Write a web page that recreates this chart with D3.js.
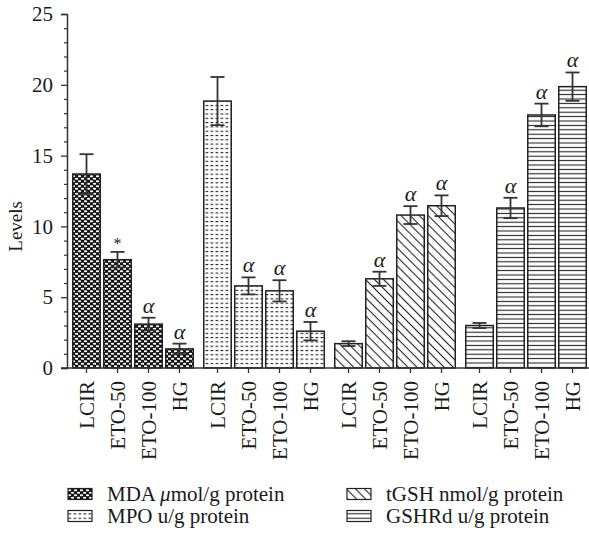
<!DOCTYPE html>
<html>
<head>
<meta charset="utf-8">
<script src="https://cdn.jsdelivr.net/npm/d3@7"></script>
<style>
  body { margin: 0; background: #fff; }
  svg { display: block; }
  text { font-family: "Liberation Serif", "DejaVu Serif", serif; fill: #1a1a1a; }
</style>
</head>
<body>
<script>
// Measured groups and treatments
const groups = ["MDA", "MPO", "tGSH", "GSHRd"];
const treatments = ["LCIR", "ETO-50", "ETO-100", "HG"];

// Means and error (±) per group, in treatment order
const mdaValues   = [13.7, 7.65, 3.1, 1.35];
const mdaErrors   = [1.4, 0.55, 0.45, 0.37];
const mpoValues   = [18.85, 5.8, 5.45, 2.6];
const mpoErrors   = [1.7, 0.6, 0.75, 0.65];
const tgshValues  = [1.72, 6.3, 10.8, 11.46];
const tgshErrors  = [0.17, 0.5, 0.63, 0.73];
const gshrdValues = [3.0, 11.3, 17.87, 19.87];
const gshrdErrors = [0.18, 0.72, 0.8, 1.0];

// Significance marks drawn above each bar
const mdaMarks   = ["", "*", "α", "α"];
const mpoMarks   = ["", "α", "α", "α"];
const tgshMarks  = ["", "α", "α", "α"];
const gshrdMarks = ["", "α", "α", "α"];

const yTicks = [0, 5, 10, 15, 20, 25];
const legendUnits = ["μmol/g protein", "u/g protein", "nmol/g protein", "u/g protein"];

const seriesValues = [mdaValues, mpoValues, tgshValues, gshrdValues];
const seriesErrors = [mdaErrors, mpoErrors, tgshErrors, gshrdErrors];
const seriesMarks  = [mdaMarks, mpoMarks, tgshMarks, gshrdMarks];

const rows = [];
groups.forEach((g, gi) => {
  treatments.forEach((t, ti) => {
    rows.push({ group: g, treatment: t, value: seriesValues[gi][ti],
                err: seriesErrors[gi][ti], mark: seriesMarks[gi][ti] });
  });
});

const W = 589, H = 537;
const svg = d3.select("body").append("svg").attr("width", W).attr("height", H);

// Fill patterns, one per group
const defs = svg.append("defs");
const ink = "#222";

const pMda = defs.append("pattern").attr("id", "pat-MDA")
  .attr("patternUnits", "userSpaceOnUse").attr("width", 6).attr("height", 5);
pMda.append("rect").attr("width", 6).attr("height", 5).attr("fill", "#111");
pMda.append("ellipse").attr("cx", 1.5).attr("cy", 1.25).attr("rx", 1.75).attr("ry", 1.1).attr("fill", "#fff");
pMda.append("ellipse").attr("cx", 4.5).attr("cy", 3.75).attr("rx", 1.75).attr("ry", 1.1).attr("fill", "#fff");

const pMpo = defs.append("pattern").attr("id", "pat-MPO")
  .attr("patternUnits", "userSpaceOnUse").attr("width", 5).attr("height", 4.3);
pMpo.append("rect").attr("width", 5).attr("height", 4.3).attr("fill", "#fff");
pMpo.append("line").attr("x1", 0.5).attr("x2", 3.3).attr("y1", 2.2).attr("y2", 2.2)
  .attr("stroke", "#222").attr("stroke-width", 1.1);

const pTgsh = defs.append("pattern").attr("id", "pat-tGSH")
  .attr("patternUnits", "userSpaceOnUse").attr("width", 8).attr("height", 6.4)
  .attr("patternTransform", "rotate(45)");
pTgsh.append("rect").attr("width", 8).attr("height", 6.4).attr("fill", "#fff");
pTgsh.append("line").attr("x1", 0).attr("x2", 8).attr("y1", 3.2).attr("y2", 3.2)
  .attr("stroke", ink).attr("stroke-width", 1.1);

const pGsh = defs.append("pattern").attr("id", "pat-GSHRd")
  .attr("patternUnits", "userSpaceOnUse").attr("width", 6).attr("height", 4.4);
pGsh.append("rect").attr("width", 6).attr("height", 4.4).attr("fill", "#fff");
pGsh.append("line").attr("x1", 0).attr("x2", 6).attr("y1", 2.2).attr("y2", 2.2)
  .attr("stroke", ink).attr("stroke-width", 1.1);

// Scales
const y = d3.scaleLinear().domain([0, 25]).range([368, 14]);
const x0 = d3.scaleBand().domain(groups).range([71, 588]).paddingInner(7 / 131);
const x1 = d3.scaleBand().domain(treatments).range([0, x0.bandwidth()])
  .paddingInner(0.113).paddingOuter(0.0565);
const cx = d => x0(d.group) + x1(d.treatment) + x1.bandwidth() / 2;

// Bars
svg.append("g").selectAll("rect").data(rows).join("rect")
  .attr("x", d => x0(d.group) + x1(d.treatment))
  .attr("y", d => y(d.value))
  .attr("width", x1.bandwidth())
  .attr("height", d => y(0) - y(d.value))
  .attr("fill", d => `url(#pat-${d.group})`)
  .attr("stroke", ink).attr("stroke-width", 1.5);

// Error bars
const capW = 14;
const eb = svg.append("g").attr("stroke", "#333").attr("stroke-width", 1.8);
eb.selectAll("line.v").data(rows).join("line").attr("class", "v")
  .attr("x1", cx).attr("x2", cx)
  .attr("y1", d => y(d.value + d.err)).attr("y2", d => y(d.value - d.err));
eb.selectAll("line.t").data(rows).join("line").attr("class", "t")
  .attr("x1", d => cx(d) - capW / 2).attr("x2", d => cx(d) + capW / 2)
  .attr("y1", d => y(d.value + d.err)).attr("y2", d => y(d.value + d.err));
eb.selectAll("line.b").data(rows).join("line").attr("class", "b")
  .attr("x1", d => cx(d) - capW / 2).attr("x2", d => cx(d) + capW / 2)
  .attr("y1", d => y(d.value - d.err)).attr("y2", d => y(d.value - d.err));

// Significance marks
svg.append("g").selectAll("text").data(rows.filter(d => d.mark)).join("text")
  .attr("x", cx)
  .attr("y", d => y(d.value + d.err) - (d.mark === "*" ? 3 : 5))
  .attr("text-anchor", "middle")
  .style("font-size", d => d.mark === "*" ? "16px" : "22px")
  .style("font-style", d => d.mark === "*" ? "normal" : "italic")
  .text(d => d.mark);

// Y axis: major ticks with labels, minor ticks every unit
const yAxis = svg.append("g").attr("transform", "translate(67,0)")
  .call(d3.axisLeft(y).tickValues(yTicks).tickSize(6).tickPadding(8).tickFormat(d3.format("d")));
yAxis.select(".domain").attr("stroke", "#333").attr("stroke-width", 1.5);
yAxis.selectAll(".tick line").attr("stroke", "#333").attr("stroke-width", 1.3);
yAxis.selectAll(".tick text").style("font-size", "21px")
  .style("font-family", '"Liberation Serif", serif').attr("fill", "#1a1a1a");

const minor = svg.append("g").attr("transform", "translate(67,0)")
  .call(d3.axisLeft(y).tickValues(d3.range(0, 26).filter(v => v % 5 !== 0)).tickSize(3).tickFormat(""));
minor.select(".domain").remove();
minor.selectAll(".tick line").attr("stroke", "#333").attr("stroke-width", 1.2);

svg.append("text")
  .attr("transform", `translate(22,${y(10)}) rotate(-90)`)
  .attr("text-anchor", "middle")
  .style("font-size", "19px")
  .text("Levels");

// X axis baseline, ticks and rotated labels
svg.append("line").attr("x1", 61).attr("x2", W).attr("y1", y(0)).attr("y2", y(0))
  .attr("stroke", "#333").attr("stroke-width", 1.5);
svg.append("g").selectAll("line").data(rows).join("line")
  .attr("x1", cx).attr("x2", cx).attr("y1", y(0)).attr("y2", y(0) + 5)
  .attr("stroke", "#333").attr("stroke-width", 1.3);
svg.append("g").selectAll("text").data(rows).join("text")
  .attr("transform", d => `translate(${cx(d)},${y(0) + 13}) rotate(-90)`)
  .attr("text-anchor", "end")
  .attr("dy", "0.34em")
  .style("font-size", "21px")
  .text(d => d.treatment);

// Legend in two columns
const legendPos = [[68, 494], [68, 516], [347, 494], [347, 516]];
const lg = svg.append("g").selectAll("g").data(groups).join("g")
  .attr("transform", (g, i) => `translate(${legendPos[i][0]},${legendPos[i][1]})`);
lg.append("rect").attr("x", 0).attr("y", -5.5).attr("width", 24).attr("height", 11)
  .attr("fill", g => `url(#pat-${g})`).attr("stroke", ink).attr("stroke-width", 1.2);
const lt = lg.append("text").attr("x", 39).attr("dy", "0.35em").style("font-size", "21px");
lt.append("tspan").text(g => g + " ");
lt.append("tspan").style("font-style", (g, i) => i === 0 ? "italic" : "normal")
  .text((g, i) => i === 0 ? "μ" : "");
lt.append("tspan").text((g, i) => i === 0 ? legendUnits[i].slice(1) : legendUnits[i]);
</script>
</body>
</html>
